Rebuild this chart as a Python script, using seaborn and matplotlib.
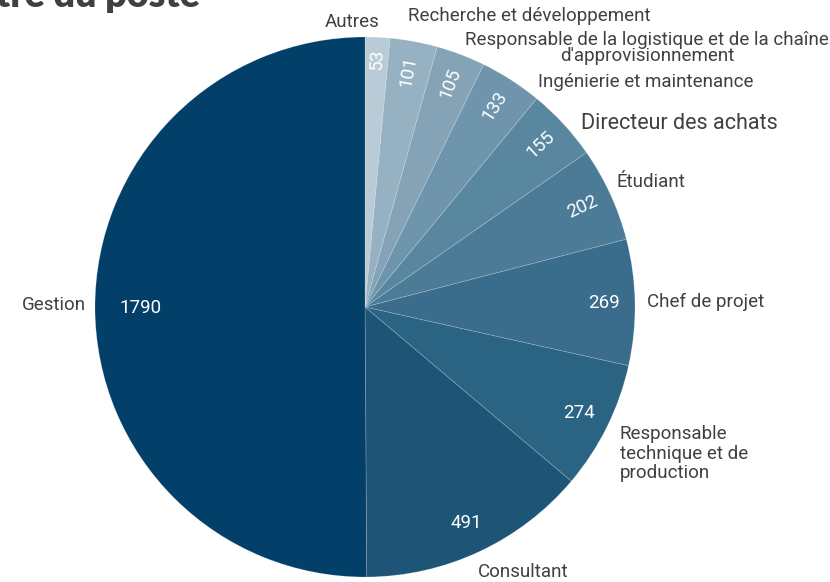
import numpy as np
import matplotlib
matplotlib.use("Agg")
import matplotlib.pyplot as plt
import seaborn as sns

# ---- data ----
categories = ["Autres", "Recherche et développement",
              "Responsable de la logistique et de la chaîne\nd'approvisionnement",
              "Ingénierie et maintenance", "Directeur des achats", "Étudiant",
              "Chef de projet", "Responsable\ntechnique et de\nproduction",
              "Consultant", "Gestion"]
values = [53, 101, 105, 133, 155, 202, 269, 274, 491, 1790]
colors = ["#b9cbd6", "#96b1c2", "#84a3b7", "#6e95ac", "#5a87a0",
          "#4b7b97", "#3a6d8c", "#2b6383", "#1e5577", "#023f69"]
title = "Titre du poste"

sns.set_theme(style="white")
plt.rcParams['font.family'] = ['Roboto', 'DejaVu Sans']

fig = plt.figure(figsize=(8.3, 5.82), dpi=100)
ax = fig.add_axes([0, 0, 1, 1])

wedges, _ = ax.pie(values, colors=colors, startangle=90, counterclock=False,
                   radius=1.0, center=(0, 0), frame=True,
                   wedgeprops=dict(edgecolor=(1, 1, 1, 0.2), linewidth=0.6))
ax.set_xlim(-365 / 270, (830 - 365) / 270)
ax.set_ylim(-(582 - 307) / 270, 307 / 270)
ax.set_aspect("auto")
ax.axis("off")

total = float(np.sum(values))
cum = np.cumsum([0] + values[:-1])
for i, v in enumerate(values):
    mid_cw = (cum[i] + v / 2) / total * 360.0
    ang = 90.0 - mid_cw
    r = 0.83 if v == max(values) else (0.92 if v < 80 else 0.885)
    x = r * np.cos(np.radians(ang))
    y = r * np.sin(np.radians(ang))
    rot = ang if 3 < ang <= 90 else 0
    ax.text(x, y, str(v), color="white", fontsize=13.5, ha="center", va="center",
            rotation=rot, rotation_mode="anchor")

# outer label layout (data coords, ha, size, linespacing)
label_layout = [
    (-0.048, 1.056, "center", 13.5, 1.0),
    (0.159, 1.078, "left", 13.5, 1.0),
    (1.044, 0.959, "center", 13.5, 0.88),
    (0.641, 0.833, "left", 13.5, 1.0),
    (0.800, 0.678, "left", 15.5, 1.0),
    (0.933, 0.463, "left", 13.5, 1.0),
    (1.044, 0.0185, "left", 13.5, 1.0),
    (0.944, -0.544, "left", 13.5, 1.1),
    (0.585, -0.981, "center", 13.5, 1.0),
    (-1.033, 0.007, "right", 13.5, 1.0),
]
for lab, (x, y, ha, fs, ls) in zip(categories, label_layout):
    ax.text(x, y, lab, color="#404040", fontsize=fs, ha=ha, va="center",
            multialignment=ha, linespacing=ls)

fig.text(200 / 830, 1 - 7 / 582, title, fontsize=27, fontweight="heavy",
         color="#404040", ha="right", va="baseline",
         family=['Lato', 'DejaVu Sans'])

fig.savefig("out.png", dpi=100)
